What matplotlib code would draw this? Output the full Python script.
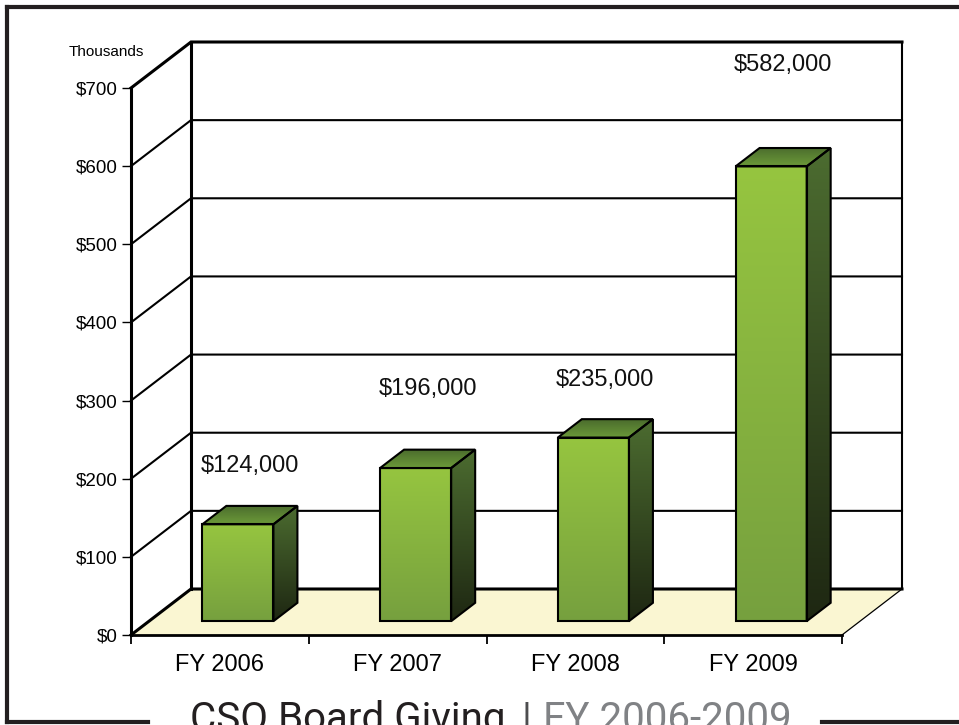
import numpy as np
import matplotlib
matplotlib.use("Agg")
import matplotlib.pyplot as plt
from matplotlib.patches import Polygon
from matplotlib.lines import Line2D
from matplotlib.colors import LinearSegmentedColormap

plt.rcParams['font.family'] = ['Liberation Sans', 'DejaVu Sans']

# data (thousands of dollars)
years = ["FY 2006", "FY 2007", "FY 2008", "FY 2009"]
giving = [124, 196, 235, 582]
value_labels = ["$124,000", "$196,000", "$235,000", "$582,000"]
y_ticks = [0, 100, 200, 300, 400, 500, 600, 700]
y_tick_labels = ["$0", "$100", "$200", "$300", "$400", "$500", "$600", "$700"]

# where Excel put the value labels (value units)
label_y = [216, 315, 326, 730]

W, H = 959, 725
DX = 60 / 177.75      # depth shift, category units
DY = 46 / (547 / 700)  # depth shift, value units
FLOOR = '#FAF6D2'


def P(x, v, d):
    """Point at category x, value v, depth d (0 front .. 1 back)."""
    return (x + d * DX, v + d * DY)


def fx(px):
    return px / W


def fy(py):
    return 1 - py / H


def gradient_face(ax, verts, c_low, c_high):
    poly = Polygon(verts, closed=True, facecolor='none', edgecolor='black',
                   lw=1.5, zorder=6, joinstyle='miter')
    ax.add_patch(poly)
    xs = [p[0] for p in verts]
    ys = [p[1] for p in verts]
    cmap = LinearSegmentedColormap.from_list('g', [c_low, c_high])
    grad = np.linspace(0, 1, 256).reshape(-1, 1)
    im = ax.imshow(grad, cmap=cmap, origin='lower', aspect='auto', zorder=5,
                   extent=[min(xs), max(xs), min(ys), max(ys)],
                   interpolation='bilinear')
    im.set_clip_path(poly)


fig = plt.figure(figsize=(9.59, 7.25), dpi=100)
fig.patch.set_facecolor('white')

# outer frame (left, top, broken bottom)
frame_kw = dict(color='#231F20', lw=3.0, solid_capstyle='projecting')
fig.add_artist(Line2D([fx(7), fx(7)], [fy(7), fy(721.5)], **frame_kw))
fig.add_artist(Line2D([fx(7), fx(959)], [fy(7), fy(7)], **frame_kw))
fig.add_artist(Line2D([fx(7), fx(148)], [fy(721.5), fy(721.5)], **frame_kw))
fig.add_artist(Line2D([fx(822), fx(959)], [fy(721.5), fy(721.5)], **frame_kw))

ax = fig.add_axes([fx(131), fy(635), 711 / W, 547 / H])
ax.patch.set_visible(False)
n = len(years)
vmax = y_ticks[-1]

# walls and floor
back = [P(0, 0, 1), P(n, 0, 1), P(n, vmax, 1), P(0, vmax, 1)]
ax.add_patch(Polygon(back, closed=True, facecolor='white', edgecolor='none', zorder=0, clip_on=False))
floor = [P(0, 0, 0), P(n, 0, 0), P(n, 0, 1), P(0, 0, 1)]
ax.add_patch(Polygon(floor, closed=True, facecolor=FLOOR, edgecolor='none', zorder=1, clip_on=False))

for v in y_ticks:
    pts = [P(0, v, 0), P(0, v, 1), P(n, v, 1)]
    lw = 2.2 if v in (0, vmax) else 1.5
    ax.plot([p[0] for p in pts], [p[1] for p in pts], color='black', lw=lw,
            zorder=2, clip_on=False, solid_joinstyle='miter')

# back wall edges and floor right edge
for a, b, lw in [(P(0, 0, 1), P(0, vmax, 1), 2.2),
                 (P(n, 0, 1), P(n, vmax, 1), 1.5),
                 (P(n, 0, 0), P(n, 0, 1), 0.9)]:
    ax.plot([a[0], b[0]], [a[1], b[1]], color='black', lw=lw, zorder=2, clip_on=False)

# bars
for i, v in enumerate(giving):
    x0, x1 = i + 0.3, i + 0.7
    d0, d1 = 0.3, 0.7
    front = [P(x0, 0, d0), P(x1, 0, d0), P(x1, v, d0), P(x0, v, d0)]
    side = [P(x1, 0, d0), P(x1, 0, d1), P(x1, v, d1), P(x1, v, d0)]
    top = [P(x0, v, d0), P(x1, v, d0), P(x1, v, d1), P(x0, v, d1)]
    gradient_face(ax, front, '#76A03E', '#96C540')
    gradient_face(ax, side, '#1E2712', '#4C6C30')
    gradient_face(ax, top, '#6C9A39', '#4A6B2D')
    lx, _ = P(i + 0.5, 0, 0.5)
    ax.text(lx, label_y[i], value_labels[i], ha='center', va='center',
            fontsize=17, color='#111111', zorder=8, clip_on=False)

ax.set_xlim(0, n)
ax.set_ylim(0, vmax)

# axes / ticks
for s in ['top', 'right']:
    ax.spines[s].set_visible(False)
ax.spines['left'].set_linewidth(2.2)
ax.spines['bottom'].set_linewidth(2.0)
ax.spines['left'].set_zorder(3)
ax.spines['bottom'].set_zorder(3)

ax.set_yticks(y_ticks)
ax.set_yticklabels(y_tick_labels)
ax.tick_params(axis='y', direction='out', length=6.5, width=1.0, pad=3,
               labelsize=13.5, colors='black')
ax.set_xticks(range(n + 1))
ax.set_xticklabels([])
ax.tick_params(axis='x', which='major', direction='out', length=6.5, width=1.3)
ax.set_xticks([i + 0.5 for i in range(n)], minor=True)
ax.set_xticklabels(years, minor=True)
ax.tick_params(axis='x', which='minor', length=0, pad=14, labelsize=17)

fig.text(fx(106), fy(52), "Thousands", ha='center', va='center', fontsize=11)

# title, cut by the bottom edge as in the source
title_kw = dict(va='baseline', fontsize=29, family=['Roboto', 'DejaVu Sans'])
renderer = fig.canvas.get_renderer()
t1 = fig.text(fx(190), fy(731), "CSO Board Giving", ha='left', color='#231F20', **title_kw)
end1 = t1.get_window_extent(renderer).x1
t2 = fig.text((end1 + 16) / W, fy(731), "|", ha='left', color='#4D4D4F', **title_kw)
end2 = t2.get_window_extent(renderer).x1
fig.text((end2 + 12) / W, fy(731), "FY 2006-2009", ha='left', color='#808285', **title_kw)

fig.savefig("out.png", dpi=100, facecolor='white')
